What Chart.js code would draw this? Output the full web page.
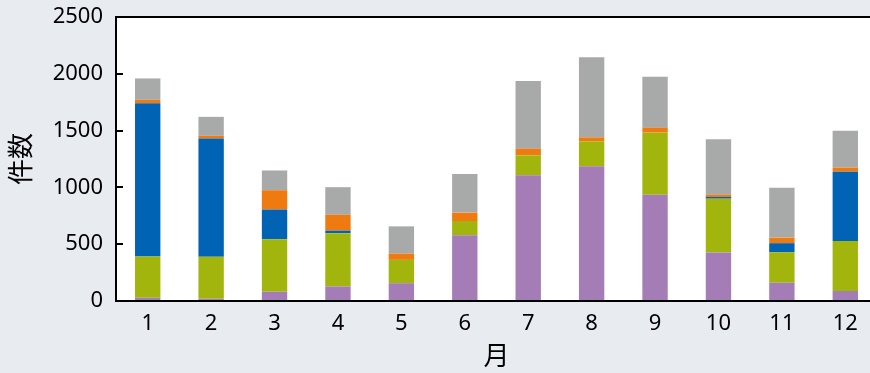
<!DOCTYPE html>
<html>
<head>
<meta charset="utf-8">
<script src="https://cdn.jsdelivr.net/npm/chart.js@4"></script>
<style>
  html, body { margin: 0; padding: 0; background: #e8ecf1; overflow: hidden; }
  #wrap { width: 870px; height: 373px; overflow: hidden; }
</style>
</head>
<body>
<div id="wrap"><canvas id="myChart" width="880" height="373"></canvas></div>
<script>
  'use strict'

  const months = ['1', '2', '3', '4', '5', '6', '7', '8', '9', '10', '11', '12']
  const purpleVals = [28, 19, 81, 128, 157, 578, 1106, 1186, 936, 426, 161, 88]
  const greenVals = [364, 370, 463, 469, 205, 126, 176, 220, 546, 475, 268, 441]
  const blueVals = [1349, 1041, 261, 23, 0, 0, 0, 0, 0, 15, 80, 609]
  const orangeVals = [30, 24, 170, 139, 55, 74, 59, 35, 44, 20, 49, 37]
  const grayVals = [188, 167, 174, 243, 240, 340, 596, 704, 449, 488, 438, 324]
  const yTicks = [0, 500, 1000, 1500, 2000, 2500]

  const fontFamily = "'Noto Sans', 'Noto Sans CJK JP', sans-serif"

  // white plot area + black frame + inward tick marks
  const framePlugin = {
    id: 'frame',
    beforeDraw (chart) {
      const { ctx, chartArea: a } = chart
      ctx.save()
      ctx.fillStyle = '#ffffff'
      ctx.fillRect(a.left, a.top, a.right - a.left, a.bottom - a.top)
      ctx.restore()
    },
    afterDraw (chart) {
      const { ctx, chartArea: a, scales } = chart
      ctx.save()
      ctx.strokeStyle = '#000000'
      ctx.lineWidth = 2
      ctx.strokeRect(a.left, a.top, a.right - a.left, a.bottom - a.top)
      ctx.beginPath()
      yTicks.forEach(v => {
        const y = Math.round(scales.y.getPixelForValue(v))
        ctx.moveTo(a.left, y)
        ctx.lineTo(a.left + 7, y)
      })
      ctx.stroke()
      ctx.restore()
    }
  }

  const ds = (label, data, color) => ({
    label: label,
    data: data,
    backgroundColor: color,
    borderWidth: 0,
    barPercentage: 0.4,
    categoryPercentage: 1
  })

  const ctx = document.getElementById('myChart')
  const myChart = new Chart(ctx, {
    type: 'bar',
    data: {
      labels: months,
      datasets: [
        ds('A', purpleVals, '#a47db7'),
        ds('B', greenVals, '#a2b50d'),
        ds('C', blueVals, '#0063b3'),
        ds('D', orangeVals, '#ef7b10'),
        ds('E', grayVals, '#a8a9a9')
      ]
    },
    plugins: [framePlugin],
    options: {
      responsive: false,
      animation: false,
      layout: { padding: { left: 0, right: 3, top: 17, bottom: 0 } },
      plugins: {
        legend: { display: false },
        tooltip: { enabled: false }
      },
      scales: {
        x: {
          stacked: true,
          grid: { display: false, drawTicks: false },
          border: { display: false },
          ticks: { color: '#000', padding: 10, font: { family: fontFamily, size: 22 } },
          title: {
            display: true,
            text: '月',
            color: '#000',
            padding: { top: 0, bottom: 0 },
            font: { family: fontFamily, size: 26 }
          },
          afterFit (scale) {
            scale.height = 72
            scale.paddingLeft = 0
            scale.paddingRight = 0
          }
        },
        y: {
          stacked: true,
          min: 0,
          max: 2500,
          afterBuildTicks (scale) { scale.ticks = yTicks.map(v => ({ value: v })) },
          grid: { display: false, drawTicks: false },
          border: { display: false },
          ticks: {
            color: '#000',
            padding: 13,
            font: { family: fontFamily, size: 22 },
            callback: v => String(v)
          },
          title: {
            display: true,
            text: '件数',
            color: '#000',
            padding: { top: 7, bottom: 0 },
            font: { family: fontFamily, size: 26 }
          },
          afterFit (scale) {
            scale.width = 116
            scale.paddingTop = 0
            scale.paddingBottom = 0
          }
        }
      }
    }
  })
</script>
</body>
</html>
